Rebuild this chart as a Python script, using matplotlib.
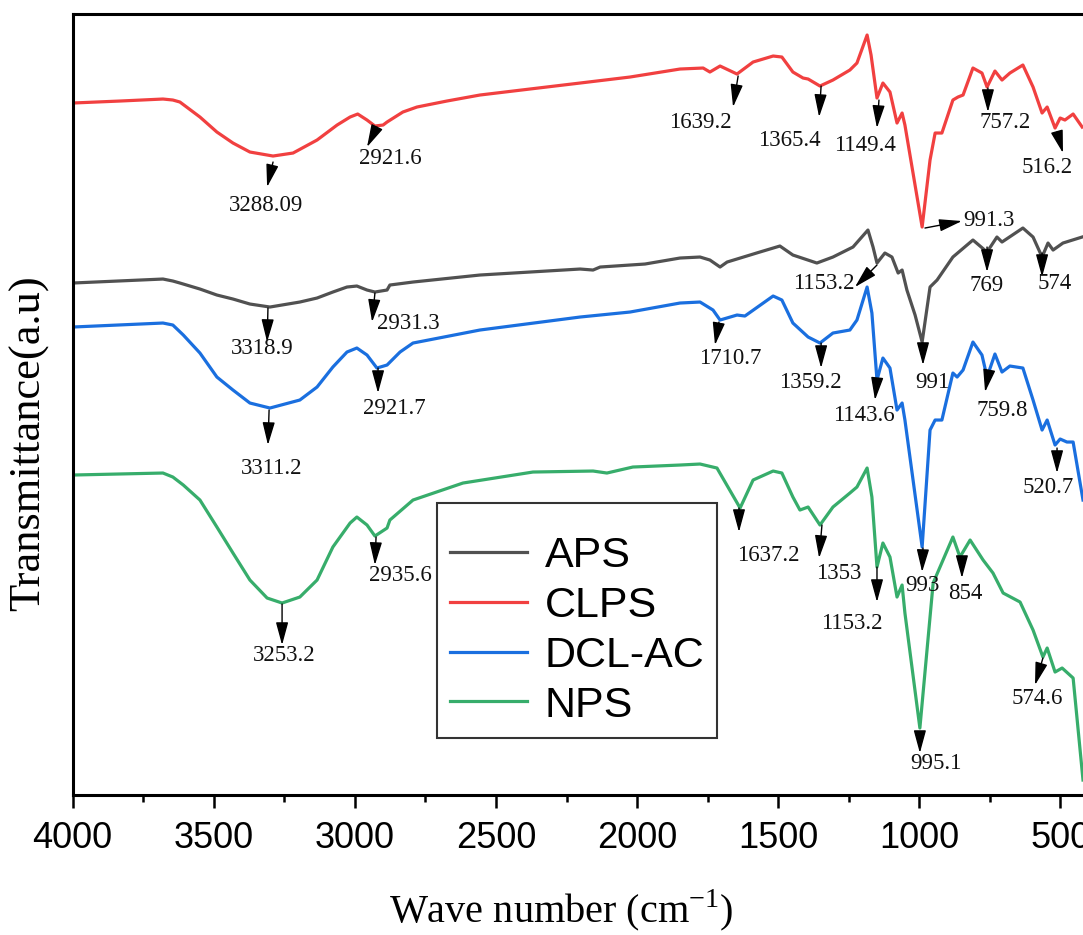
import matplotlib
matplotlib.use('Agg')
import matplotlib.pyplot as plt
from matplotlib.ticker import MultipleLocator

plt.rcParams['mathtext.fontset'] = 'custom'
plt.rcParams['mathtext.rm'] = 'Liberation Serif'

# ---------------- data (wavenumber cm-1, transmittance a.u.) ----------------
aps_wn = [4000, 3680, 3645, 3620, 3549, 3489, 3432, 3372, 3301, 3195, 3134, 3078,
          3028, 2993, 2957, 2929, 2886,
          2876, 2794, 2557, 2202, 2156, 2131, 1972, 1848, 1777, 1742, 1706, 1681,
          1565, 1494, 1448, 1363, 1306, 1235, 1182, 1164, 1150, 1122, 1097, 1075,
          1061, 1044, 1015, 990, 962, 937, 881, 810, 760, 725, 707, 633, 597, 565,
          544, 526, 491, 423]
aps_t = [65.2, 65.6, 65.4, 65.2, 64.6, 64.0, 63.6, 63.1, 62.8, 63.3, 63.7, 64.3,
         64.8, 64.9, 64.5, 64.3, 64.5,
         65.0, 65.3, 66.0, 66.6, 66.5, 66.8, 67.1, 67.7, 67.8, 67.5, 66.8, 67.3,
         68.3, 68.9, 68.0, 67.2, 67.8, 68.8, 70.5, 68.8, 67.2, 68.2, 67.8, 66.2,
         66.5, 64.5, 62.0, 59.3, 64.8, 65.5, 67.8, 69.5, 68.3, 69.8, 69.3, 70.7,
         69.8, 67.8, 69.2, 68.5, 69.2, 69.8]

clps_wn = [4000, 3832, 3680, 3645, 3620, 3549, 3489, 3432, 3372, 3290, 3219, 3134,
           3063, 3017,
           2990, 2957, 2929, 2900, 2886, 2830, 2780, 2674, 2557, 2380, 2202, 2025,
           1848, 1766, 1742, 1706, 1646, 1589, 1518, 1487, 1448, 1412, 1394, 1352,
           1306, 1246, 1221, 1185, 1171, 1150, 1129, 1104, 1079, 1061, 1051, 990,
           962, 944, 920, 881, 863, 845, 810, 778, 760, 732, 707, 679, 633, 597,
           565, 547, 519, 501, 484, 455, 423]
clps_t = [83.2, 83.4, 83.6, 83.5, 83.3, 81.8, 80.3, 79.2, 78.3, 77.9, 78.2, 79.5,
          81.0, 81.8,
          82.1, 81.5, 80.9, 81.0, 81.3, 82.3, 82.8, 83.4, 84.0, 84.6, 85.2, 85.8,
          86.6, 86.7, 86.3, 86.9, 86.1, 87.3, 87.9, 87.8, 86.3, 85.7, 85.6, 84.9,
          85.5, 86.5, 87.2, 90.0, 88.0, 83.7, 85.2, 84.3, 81.2, 82.2, 81.0, 70.8,
          77.5, 80.2, 80.2, 83.5, 83.8, 84.0, 86.7, 86.2, 84.8, 86.4, 85.5, 86.2,
          87.0, 84.8, 82.2, 82.8, 80.7, 81.7, 81.5, 82.1, 80.8]

dclac_wn = [4000, 3680, 3645, 3608, 3549, 3489, 3432, 3372, 3301, 3195, 3134, 3078,
            3028, 2993, 2957, 2922,
            2886, 2840, 2794, 2557, 2202, 2025, 1848, 1777, 1731, 1706, 1646, 1618,
            1518, 1487, 1448, 1394, 1352, 1306, 1246, 1221, 1185, 1168, 1150, 1129,
            1104, 1079, 1061, 1051, 990, 962, 944, 920, 881, 866, 845, 810, 778,
            760, 732, 707, 679, 633, 597, 565, 547, 519, 501, 477, 455, 420]
dclac_t = [60.8, 61.2, 61.0, 60.0, 58.2, 55.8, 54.5, 53.2, 52.7, 53.5, 54.8, 56.8,
           58.3, 58.7, 58.0, 56.7,
           57.0, 58.3, 59.2, 60.5, 61.8, 62.3, 63.2, 63.3, 62.5, 61.5, 62.0, 61.9,
           63.9, 63.5, 61.2, 59.8, 59.2, 60.2, 60.5, 61.5, 64.8, 62.2, 55.5, 57.7,
           56.7, 52.5, 53.2, 51.5, 38.8, 50.5, 51.5, 51.5, 56.2, 55.8, 56.5, 59.3,
           58.0, 55.8, 58.1, 56.3, 56.9, 56.7, 53.5, 50.5, 51.5, 49.0, 49.6, 49.3,
           49.3, 43.5]

nps_wn = [4000, 3680, 3645, 3608, 3549, 3489, 3432, 3372, 3311, 3258, 3195, 3134,
          3078, 3017, 2993, 2957, 2929,
          2886, 2876, 2794, 2617, 2369, 2156, 2107, 2015, 1848, 1777, 1717, 1635,
          1589, 1518, 1487, 1448, 1423, 1394, 1352, 1306, 1246, 1221, 1185, 1168,
          1150, 1129, 1104, 1079, 1061, 1051, 998, 951, 881, 856, 820, 774, 739,
          703, 643, 597, 562, 547, 519, 494, 455, 420]
nps_t = [46.0, 46.2, 45.8, 45.0, 43.5, 40.8, 38.2, 35.5, 33.7, 33.2, 33.8, 35.5,
         38.8, 41.2, 41.8, 41.0, 39.9,
         40.7, 41.5, 43.5, 45.2, 46.3, 46.4, 46.2, 46.8, 47.0, 47.1, 46.7, 42.7,
         45.5, 46.4, 46.2, 43.8, 42.5, 42.8, 41.0, 42.8, 44.2, 44.8, 46.7, 43.8,
         36.8, 39.2, 37.8, 33.8, 35.0, 32.2, 20.7, 35.2, 39.8, 37.8, 39.5, 37.5,
         36.2, 34.2, 33.3, 30.5, 27.8, 28.7, 26.3, 26.7, 25.7, 15.5]

series_names = ['APS', 'CLPS', 'DCL-AC', 'NPS']
series_colors = ['#515151', '#F14040', '#1A6FDF', '#37AD6B']

# peak labels: text, arrow tail (wn, T), arrow tip (wn, T), label centre (wn, T)
peak_labels = [
    ('3288.09', 3290, 77.3, 3311, 74.8, 3315, 73.0),
    ('2921.6', 2922, 80.8, 2957, 78.8, 2876, 77.7),
    ('1639.2', 1642, 85.9, 1660, 82.8, 1777, 81.3),
    ('1365.4', 1348, 84.9, 1355, 81.8, 1462, 79.5),
    ('1149.4', 1143, 83.5, 1150, 80.7, 1192, 79.0),
    ('757.2', 757, 84.7, 757, 82.3, 696, 81.3),
    ('516.2', 512, 80.3, 491, 78.2, 547, 76.8),
    ('991.3', 980, 70.7, 849, 71.4, 753, 71.5),
    ('3318.9', 3308, 62.7, 3311, 59.3, 3329, 58.7),
    ('2931.3', 2929, 64.2, 2939, 61.3, 2812, 61.2),
    ('1153.2', 1150, 67.0, 1228, 64.8, 1338, 65.2),
    ('769', 760, 68.8, 760, 66.3, 760, 65.0),
    ('574', 565, 68.2, 565, 65.8, 519, 65.2),
    ('991', 987, 59.2, 987, 57.0, 955, 55.3),
    ('3311.2', 3304, 52.5, 3308, 49.0, 3294, 46.7),
    ('2921.7', 2918, 56.7, 2918, 54.2, 2861, 52.7),
    ('1710.7', 1710, 61.3, 1724, 59.0, 1671, 57.7),
    ('1359.2', 1348, 59.2, 1348, 56.7, 1387, 55.3),
    ('1143.6', 1150, 55.5, 1157, 53.5, 1196, 52.0),
    ('759.8', 757, 55.8, 767, 54.3, 707, 52.5),
    ('520.7', 512, 48.7, 512, 46.2, 544, 44.8),
    ('993', 987, 38.7, 990, 36.3, 990, 35.0),
    ('3253.2', 3258, 33.1, 3258, 29.0, 3251, 28.0),
    ('2935.6', 2925, 39.8, 2929, 37.0, 2840, 36.0),
    ('1637.2', 1639, 42.7, 1639, 40.3, 1536, 38.0),
    ('1353', 1345, 41.0, 1355, 37.7, 1285, 36.2),
    ('1153.2', 1150, 36.8, 1150, 33.3, 1238, 31.2),
    ('854', 849, 37.7, 849, 35.7, 838, 34.2),
    ('995.1', 998, 20.3, 998, 18.2, 941, 17.2),
    ('574.6', 562, 27.7, 590, 25.0, 583, 23.7),
]

x_major = 500
x_minor = 250

# ---------------- figure ----------------
fig = plt.figure(figsize=(10.83, 9.35), dpi=100)
ax = fig.add_axes([0.0671, 0.1497, 0.9329, 0.8353])

all_wn = [aps_wn, clps_wn, dclac_wn, nps_wn]
all_t = [aps_t, clps_t, dclac_t, nps_t]
for wn, t, name, col in zip(all_wn, all_t, series_names, series_colors):
    ax.plot(wn, t, color=col, lw=2.3, label=name, solid_joinstyle='round')

for lab, x0, y0, x1, y1, tx, ty in peak_labels:
    ax.annotate('', xy=(x1, y1), xytext=(x0, y0),
                arrowprops=dict(arrowstyle='-|>,head_length=1.4,head_width=0.38',
                                mutation_scale=10, color='black', lw=1.0,
                                shrinkA=0, shrinkB=0))
    ax.text(tx, ty, lab, ha='center', va='center', fontsize=16.5,
            family='Liberation Serif', color='#111111')

ax.set_xlim(4000, 420)
ax.set_ylim(14.0, 92.1)
ax.xaxis.set_major_locator(MultipleLocator(x_major))
ax.xaxis.set_minor_locator(MultipleLocator(x_minor))
ax.set_yticks([])
ax.spines['right'].set_visible(False)
for s in ['left', 'top', 'bottom']:
    ax.spines[s].set_linewidth(2.2)
ax.tick_params(axis='x', which='major', direction='out', length=9, width=1.8,
               pad=9.5, labelsize=26)
ax.tick_params(axis='x', which='minor', direction='out', length=5, width=1.8)
for lab in ax.get_xticklabels():
    lab.set_fontfamily('Liberation Sans')

ax.set_xlabel('Wave number (cm$^{\\mathrm{-1}}$)', family='Liberation Serif',
              fontsize=29)
ax.xaxis.set_label_coords(0.484, -0.118)
ax.set_ylabel('Transmittance(a.u)', family='Liberation Serif', fontsize=32)
ax.yaxis.set_label_coords(-0.0235, 0.450)

leg = ax.legend(loc='upper left', bbox_to_anchor=(0.3606, 0.3739), borderaxespad=0,
                frameon=True, fancybox=False, edgecolor='#333333',
                framealpha=1, borderpad=0.3, labelspacing=0.23, handlelength=1.8,
                handletextpad=0.4, prop={'family': 'Liberation Sans', 'size': 31},
                title=' ', title_fontsize=8)
leg.get_frame().set_linewidth(1.5)

fig.savefig('out.png', dpi=100)
